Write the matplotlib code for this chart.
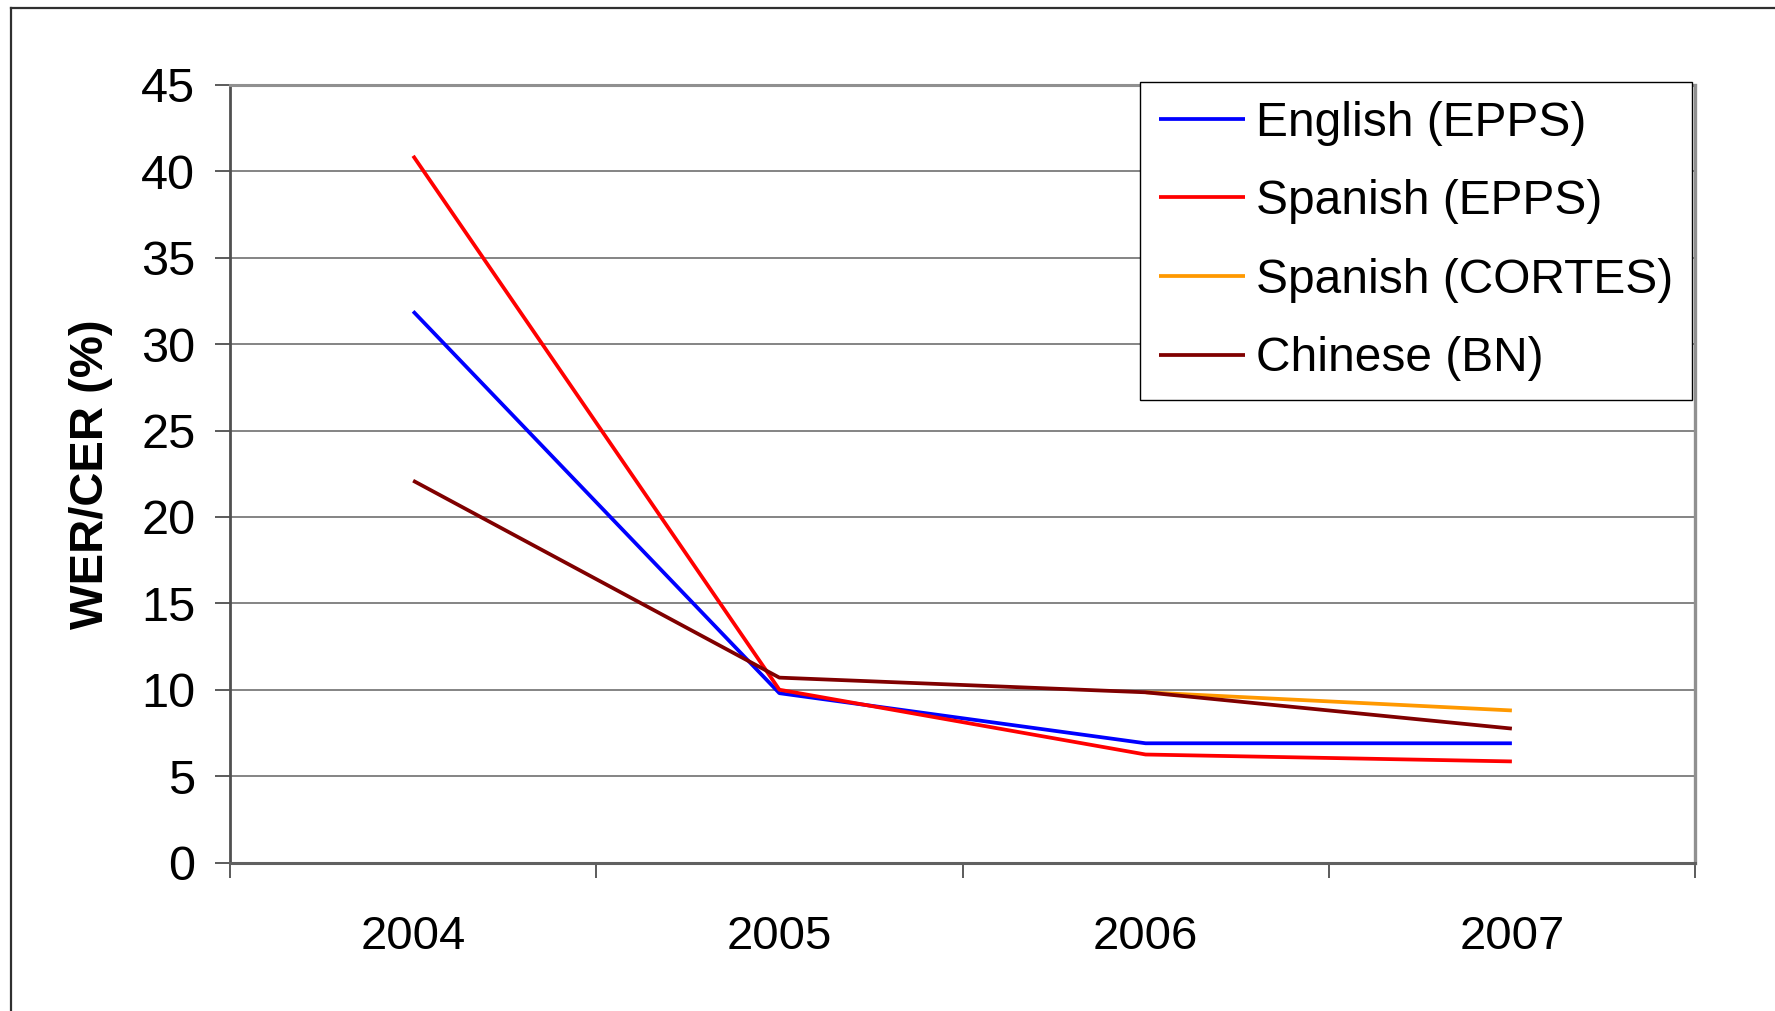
import numpy as np
import matplotlib
matplotlib.use("Agg")
from matplotlib import pyplot as plt
from matplotlib.lines import Line2D

plt.rcParams['font.family'] = ['Liberation Sans', 'DejaVu Sans']

years = ["2004", "2005", "2006", "2007"]
english_epps = [31.9, 9.8, 6.9, 6.9]
spanish_epps = [40.9, 10.0, 6.25, 5.85]
spanish_cortes = [np.nan, np.nan, 9.85, 8.8]
chinese_bn = [22.1, 10.7, 9.85, 7.75]

series = [
    ("English (EPPS)", english_epps, "#0000ff"),
    ("Spanish (EPPS)", spanish_epps, "#ff0000"),
    ("Spanish (CORTES)", spanish_cortes, "#ff9900"),
    ("Chinese (BN)", chinese_bn, "#800000"),
]

W, H = 1775, 1011
fig = plt.figure(figsize=(W / 100, H / 100), dpi=100)
ax = fig.add_axes([230 / W, 1 - 862.5 / H, (1695 - 230) / W, (862.5 - 85) / H])

# categories sit in the middle of each slot, ticks on the slot edges
xpos = np.arange(len(years)) + 0.5
for name, vals, col in series:
    ax.plot(xpos, vals, color=col, lw=2.7, label=name, solid_capstyle='butt')

ax.set_xlim(0, len(years))
ax.set_ylim(0, 45)
ax.set_yticks(np.arange(0, 46, 5))
ax.set_xticks(np.arange(0, len(years) + 1))
ax.set_xticklabels([])
ax.set_xticks(xpos, minor=True)
ax.set_xticklabels(years, minor=True)
ax.tick_params(axis='x', which='minor', length=0, pad=38, labelsize=34)
ax.tick_params(axis='x', which='major', length=11, width=1.2, color='#404040', direction='out')
ax.tick_params(axis='y', length=11, width=1.2, color='#404040', direction='out', labelsize=35, pad=14)

ax.grid(axis='y', color='#707070', lw=1.2)
ax.set_axisbelow(True)
for side, c, w in [('left', '#505050', 2.0), ('bottom', '#606060', 2.2),
                   ('top', '#909090', 2.2), ('right', '#909090', 2.4)]:
    ax.spines[side].set_color(c)
    ax.spines[side].set_linewidth(w)

ax.set_ylabel("WER/CER (%)", fontsize=34, fontweight='bold', labelpad=20)

leg = ax.legend(loc='upper right', bbox_to_anchor=(1692 / W, 1 - 81.5 / H),
                bbox_transform=fig.transFigure, borderaxespad=0,
                fontsize=34.5, frameon=True, fancybox=False, framealpha=1,
                handlelength=1.8, handletextpad=0.22, labelspacing=0.7,
                borderpad=0.4)
leg.get_frame().set_edgecolor('#000000')
leg.get_frame().set_linewidth(1.0)
for h in leg.get_lines():
    h.set_linewidth(2.7)

# outer frame (top and left edges)
fig.add_artist(Line2D([11 / W, 1], [1 - 8 / H, 1 - 8 / H], transform=fig.transFigure,
                      color='#303030', lw=1.6))
fig.add_artist(Line2D([11 / W, 11 / W], [0, 1 - 8 / H], transform=fig.transFigure,
                      color='#303030', lw=1.6))

fig.savefig("out.png", dpi=100)
